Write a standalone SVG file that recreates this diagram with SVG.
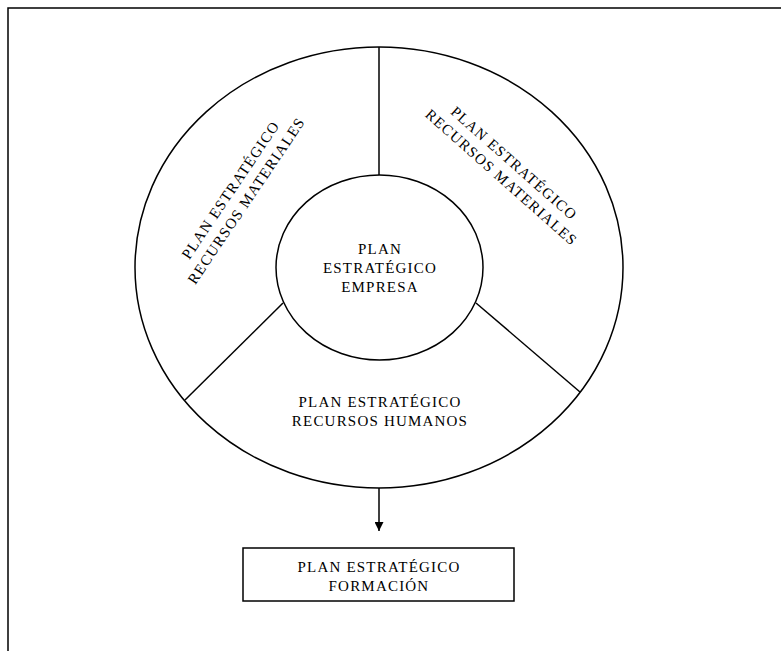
<svg xmlns="http://www.w3.org/2000/svg" width="781" height="651" viewBox="0 0 781 651">
  <style>
    .ln { fill: none; stroke: #000; stroke-width: 1.5; }
    .tx { font-family: "Liberation Serif", "Times New Roman", serif; font-size: 15px; letter-spacing: 1.2px; fill: #000; text-anchor: middle; }
  </style>
  <defs>
    <marker id="arrow" viewBox="0 0 10 10" refX="10" refY="5" markerWidth="10" markerHeight="9" markerUnits="userSpaceOnUse" orient="auto">
      <path d="M0,0 L10,5 L0,10 Z" fill="#000"/>
    </marker>
  </defs>
  <rect width="781" height="651" fill="#fff"/>

  <!-- page frame (open to the right and bottom) -->
  <path class="ln" d="M8,651 V8 H781"/>

  <!-- outer ring split into three sectors -->
  <g id="anillo">
    <ellipse class="ln" cx="379" cy="267.5" rx="244" ry="220.5"/>
  </g>

  <g id="connectors">
    <line class="ln" x1="379" y1="47" x2="379" y2="175"/>
    <line class="ln" x1="283" y1="303" x2="185" y2="400"/>
    <line class="ln" x1="476" y1="303" x2="580" y2="392"/>
    <line class="ln" x1="379" y1="488" x2="379" y2="531" marker-end="url(#arrow)"/>
  </g>

  <g id="empresa">
    <ellipse class="ln" cx="379.5" cy="267.5" rx="103.5" ry="92.5"/>
    <text class="tx" x="380" y="254">PLAN</text>
    <text class="tx" x="380" y="273">ESTRATÉGICO</text>
    <text class="tx" x="380" y="292">EMPRESA</text>
  </g>

  <g id="materiales-izq" transform="translate(238,195) rotate(-56)">
    <text class="tx" x="0" y="-4">PLAN ESTRATÉGICO</text>
    <text class="tx" x="0" y="15">RECURSOS MATERIALES</text>
  </g>

  <g id="materiales-der" transform="translate(508,170) rotate(41.5)">
    <text class="tx" x="0" y="-4">PLAN ESTRATÉGICO</text>
    <text class="tx" x="0" y="15">RECURSOS MATERIALES</text>
  </g>

  <g id="humanos">
    <text class="tx" x="380" y="407">PLAN ESTRATÉGICO</text>
    <text class="tx" x="380" y="426">RECURSOS HUMANOS</text>
  </g>

  <g id="formacion">
    <rect class="ln" x="243" y="548" width="271" height="53"/>
    <text class="tx" x="379" y="572">PLAN ESTRATÉGICO</text>
    <text class="tx" x="379" y="591">FORMACIÓN</text>
  </g>
</svg>
